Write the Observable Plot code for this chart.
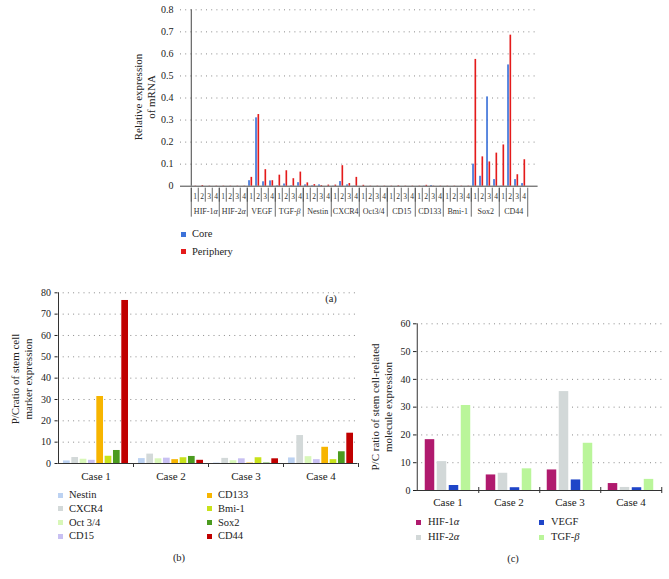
<!DOCTYPE html>
<html><head><meta charset="utf-8">
<script src="https://cdn.jsdelivr.net/npm/d3@7"></script>
<script src="https://cdn.jsdelivr.net/npm/@observablehq/plot@0.6"></script>
<style>
body{margin:0;background:#fff;}
#root{position:relative;width:669px;height:579px;font-family:"Liberation Serif","DejaVu Serif",serif;color:#222;overflow:hidden;background:#fff}
.leg{position:absolute;font-size:10.5px;line-height:12px;white-space:nowrap;transform:translateY(-50%)}
.sw{position:absolute;width:5px;height:5px}
.ylab{position:absolute;transform:translate(-50%,-50%) rotate(-90deg);text-align:center;white-space:nowrap;line-height:13.4px;font-size:11px}
.cap{position:absolute;font-size:10.5px;transform:translate(-50%,-50%);white-space:nowrap}
</style></head><body><div id="root"></div>
<script>
// ---------- Panel (a) data ----------
const genesA = ["HIF-1α","HIF-2α","VEGF","TGF-β","Nestin","CXCR4","Oct3/4","CD15","CD133","Bmi-1","Sox2","CD44"];
const caseNumsA = ["1","2","3","4"];
// relative mRNA expression, 4 cases per gene (gene order as genesA)
const coreA = [
  0, 0, 0, 0,
  0, 0, 0, 0,
  0.025, 0.31, 0.02, 0.024,
  0.002, 0.01, 0.002, 0.016,
  0.006, 0.002, 0.006, 0,
  0.001, 0.021, 0.006, 0.001,
  0, 0, 0, 0,
  0, 0, 0, 0,
  0, 0.001, 0.003, 0,
  0, 0, 0, 0,
  0.10, 0.045, 0.405, 0.03,
  0.001, 0.55, 0.03, 0.012
];
const periA = [
  0.001, 0.003, 0.001, 0.001,
  0.001, 0.001, 0.001, 0.001,
  0.04, 0.325, 0.075, 0.025,
  0.05, 0.07, 0.034, 0.064,
  0.015, 0.007, 0.003, 0.005,
  0.005, 0.093, 0.012, 0.04,
  0.004, 0.001, 0.001, 0.001,
  0.001, 0.002, 0.001, 0.001,
  0.001, 0.004, 0.001, 0.001,
  0.001, 0.001, 0.001, 0.001,
  0.575, 0.133, 0.11, 0.15,
  0.187, 0.685, 0.052, 0.12
];
const yTicksA = [0, 0.1, 0.2, 0.3, 0.4, 0.5, 0.6, 0.7, 0.8];
const seriesA = ["Core", "Periphery"];
const colorsA = ["#3c72d9", "#e41b1b"];

// ---------- Panel (b) data ----------
const casesB = ["Case 1","Case 2","Case 3","Case 4"];
const seriesB = ["Nestin","CXCR4","Oct 3/4","CD15","CD133","Bmi-1","Sox2","CD44"];
const colorsB = ["#bcd2f2","#d3d9d9","#d8f7b8","#c8c0f2","#f7b500","#c8e21a","#4b9b1f","#c00000"];
const nestinB = [1.2, 2.3, 0.2, 2.6];
const cxcr4B  = [2.8, 4.4, 2.4, 13.1];
const oct34B  = [2.0, 2.2, 1.3, 3.2];
const cd15B   = [1.5, 2.5, 2.2, 1.8];
const cd133B  = [31.4, 1.8, 0.2, 7.6];
const bmi1B   = [3.4, 2.7, 2.7, 1.8];
const sox2B   = [6.1, 3.3, 0.2, 5.5];
const cd44B   = [76.4, 1.5, 2.2, 14.2];
const valuesB = [nestinB, cxcr4B, oct34B, cd15B, cd133B, bmi1B, sox2B, cd44B];
const yTicksB = [0, 10, 20, 30, 40, 50, 60, 70, 80];

// ---------- Panel (c) data ----------
const casesC = ["Case 1","Case 2","Case 3","Case 4"];
const seriesC = ["HIF-1α","HIF-2α","VEGF","TGF-β"];
const colorsC = ["#b01a6e","#d2d8d8","#1f45c8","#baf59a"];
const hif1aC = [18.3, 5.6, 7.4, 2.5];
const hif2aC = [10.4, 6.2, 35.6, 1.1];
const vegfC  = [1.8, 1.0, 3.8, 1.0];
const tgfbC  = [30.6, 7.8, 17.0, 4.0];
const valuesC = [hif1aC, hif2aC, vegfC, tgfbC];
const yTicksC = [0, 10, 20, 30, 40, 50, 60];

// ---------- helpers ----------
const FONT = "Liberation Serif, DejaVu Serif, serif";
const root = document.getElementById("root");
const GRID = {stroke: "#8a8a8a", strokeDasharray: "1,4.2", strokeWidth: 1};
function placeSvg(svg, left, top) {
  svg.style.position = "absolute"; svg.style.left = left + "px"; svg.style.top = top + "px";
  root.appendChild(svg);
}
function div(cls, html, styles) {
  const d = document.createElement("div"); d.className = cls; d.innerHTML = html;
  Object.assign(d.style, styles); root.appendChild(d); return d;
}
function legendItem(sx, cy, color, html, tx) {
  div("sw", "", {left: sx + "px", top: (cy - 2.5) + "px", background: color});
  div("leg", html, {left: tx + "px", top: cy + "px"});
}
function greekHtml(s) { return s.replace(/([αβ])/g, "<i>$1</i>"); }
function italicizeGreek(svg) {
  d3.select(svg).selectAll("text").each(function() {
    if (this.querySelector("tspan")) return;
    const t = this.textContent;
    if (!/[αβ]/.test(t)) return;
    this.textContent = "";
    for (const part of t.split(/([αβ])/)) {
      if (!part) continue;
      const ts = document.createElementNS("http://www.w3.org/2000/svg", "tspan");
      ts.textContent = part;
      if (/[αβ]/.test(part)) ts.setAttribute("font-style", "italic");
      this.appendChild(ts);
    }
  });
}
const baseStyle = {fontFamily: FONT, fontSize: "10px", color: "#222", background: "transparent", overflow: "visible"};

// ---------- Panel (a) ----------
const slotsA = genesA.flatMap(g => caseNumsA.map(c => g + "|" + c));
const rowsA = genesA.flatMap((g, gi) => caseNumsA.map((c, ci) => ({
  slot: g + "|" + c, gene: g, num: c, core: coreA[gi * 4 + ci], peri: periA[gi * 4 + ci]
})));
const A = {left: 120, top: 0, width: 420, height: 225, ml: 60, mr: 2.4, mt: 9.3, mb: 39.3};
const bwA = (A.width - A.ml - A.mr) / slotsA.length;
const svgA = Plot.plot({
  width: A.width, height: A.height,
  marginLeft: A.ml, marginRight: A.mr, marginTop: A.mt, marginBottom: A.mb,
  style: baseStyle,
  x: {type: "band", domain: slotsA, padding: 0, axis: null},
  y: {domain: [0, 0.8], ticks: yTicksA, tickFormat: d => String(d), tickSize: 0, tickPadding: 7, label: null},
  marks: [
    Plot.ruleY(yTicksA.filter(d => d > 0), GRID),
    Plot.barY(rowsA, {x: "slot", y: "core", fill: colorsA[0], insetLeft: 1.2, insetRight: 4.15}),
    Plot.barY(rowsA, {x: "slot", y: "peri", fill: colorsA[1], insetLeft: 3.5, insetRight: 1.85}),
    Plot.ruleY([0], {stroke: "#444"}),
    Plot.ruleX([slotsA[0]], {x: d => d, dx: -bwA / 2, y1: 0, y2: 0.8, stroke: "#444"}),
    Plot.ruleX(slotsA, {x: d => d, dx: -bwA / 2, y1: 0, y2: 0, insetTop: 2, insetBottom: -16, stroke: "#444", strokeWidth: 0.8}),
    Plot.ruleX(genesA.map(g => g + "|1"), {x: d => d, dx: -bwA / 2, y1: 0, y2: 0, insetTop: 2, insetBottom: -31, stroke: "#444", strokeWidth: 0.8}),
    Plot.ruleX([slotsA[slotsA.length - 1]], {x: d => d, dx: bwA / 2, y1: 0, y2: 0, insetTop: 2, insetBottom: -31, stroke: "#444", strokeWidth: 0.8}),
    Plot.text(rowsA, {x: "slot", y: 0, text: "num", dy: 10, fontSize: 7.5, fill: "#333"}),
    Plot.text(genesA, {x: g => g + "|2", y: 0, text: d => d, dx: bwA / 2, dy: 25.5, fontSize: 8, fill: "#333"})
  ]
});
italicizeGreek(svgA);
placeSvg(svgA, A.left, A.top);
div("ylab", "Relative expression<br>of mRNA", {left: "145px", top: "97px"});
legendItem(180.5, 234, colorsA[0], seriesA[0], 192);
legendItem(180.5, 251.5, colorsA[1], seriesA[1], 192);
div("cap", "(a)", {left: "331px", top: "298px"});

// ---------- Panel (b) ----------
const rowsB = seriesB.flatMap((s, j) => casesB.map((c, i) => ({series: s, case: c, value: valuesB[j][i]})));
const B = {left: 0, top: 280, width: 360, height: 200, ml: 57.5, mr: 2.5, mt: 12.3, mb: 17};
const bwB = (B.width - B.ml - B.mr) / casesB.length;
const barWB = 6.7, strideB = 8.33;
const svgB = Plot.plot({
  width: B.width, height: B.height,
  marginLeft: B.ml, marginRight: B.mr, marginTop: B.mt, marginBottom: B.mb,
  style: baseStyle,
  x: {type: "band", domain: casesB, padding: 0, axis: null},
  y: {domain: [0, 80], ticks: yTicksB, tickSize: 3, tickPadding: 4, label: null},
  color: {domain: seriesB, range: colorsB},
  marks: [
    Plot.ruleY(yTicksB.filter(d => d > 0), GRID),
    ...seriesB.map((s, j) => Plot.barY(rowsB.filter(r => r.series === s), {
      x: "case", y: "value", fill: "series",
      insetLeft: (bwB - barWB) / 2, insetRight: (bwB - barWB) / 2, dx: (j - (seriesB.length - 1) / 2) * strideB
    })),
    Plot.ruleY([0], {stroke: "#333"}),
    Plot.ruleX([casesB[0]], {x: d => d, dx: -bwB / 2, y1: 0, y2: 80, stroke: "#333"}),
    Plot.ruleX(casesB, {x: d => d, dx: bwB / 2, y1: 0, y2: 0, insetTop: 0, insetBottom: -4, stroke: "#333"}),
    Plot.text(casesB, {x: d => d, y: 0, text: d => d, dy: 12.5, fontSize: 11, fill: "#222"})
  ]
});
placeSvg(svgB, B.left, B.top);
div("ylab", "P/Cratio of stem cell<br>marker expression", {left: "21.5px", top: "379px"});
seriesB.forEach((s, j) => {
  const col = Math.floor(j / 4), row = j % 4;
  legendItem(col ? 207 : 58, 495 + row * 13.8, colorsB[j], s, col ? 218 : 69);
});
div("cap", "(b)", {left: "179px", top: "557px"});

// ---------- Panel (c) ----------
const rowsC = seriesC.flatMap((s, j) => casesC.map((c, i) => ({series: s, case: c, value: valuesC[j][i]})));
const C = {left: 370, top: 310, width: 299, height: 200, ml: 46, mr: 7, mt: 13.3, mb: 20};
const bwC = (C.width - C.ml - C.mr) / casesC.length;
const barWC = 10, strideC = 12;
const svgC = Plot.plot({
  width: C.width, height: C.height,
  marginLeft: C.ml, marginRight: C.mr, marginTop: C.mt, marginBottom: C.mb,
  style: baseStyle,
  x: {type: "band", domain: casesC, padding: 0, axis: null},
  y: {domain: [0, 60], ticks: yTicksC, tickSize: 3, tickPadding: 3, label: null},
  color: {domain: seriesC, range: colorsC},
  marks: [
    Plot.ruleY(yTicksC.filter(d => d > 0), GRID),
    ...seriesC.map((s, j) => Plot.barY(rowsC.filter(r => r.series === s), {
      x: "case", y: "value", fill: "series",
      insetLeft: (bwC - barWC) / 2, insetRight: (bwC - barWC) / 2, dx: (j - (seriesC.length - 1) / 2) * strideC
    })),
    Plot.ruleY([0], {stroke: "#333"}),
    Plot.ruleX([casesC[0]], {x: d => d, dx: -bwC / 2, y1: 0, y2: 60, stroke: "#333"}),
    Plot.ruleX(casesC, {x: d => d, dx: bwC / 2, y1: 0, y2: 0, insetTop: -3, insetBottom: -3, stroke: "#333"}),
    Plot.text(casesC, {x: d => d, y: 0, text: d => d, dy: 12, fontSize: 11, fill: "#222"})
  ]
});
placeSvg(svgC, C.left, C.top);
div("ylab", "P/C ratio of stem cell-related<br>molecule expression", {left: "382px", top: "406.5px"});
seriesC.forEach((s, j) => {
  const col = Math.floor(j / 2), row = j % 2;
  legendItem(col ? 538.5 : 416, 522 + row * 15, colorsC[j], greekHtml(s), col ? 551 : 428);
});
div("cap", "(c)", {left: "513px", top: "557.5px"});
</script></body></html>
